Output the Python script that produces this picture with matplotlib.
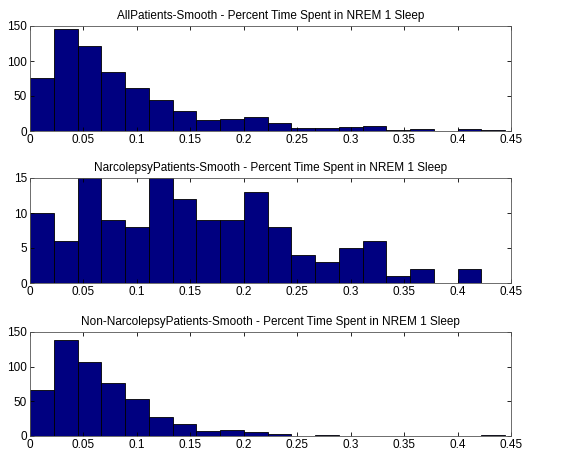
import numpy as np
import matplotlib
matplotlib.use('Agg')
import matplotlib.pyplot as plt

plt.rcParams['font.family'] = ['Liberation Sans', 'DejaVu Sans']

# histogram counts, 20 bins over 0 .. 0.4445
bin_lo = 0.0
bin_hi = 0.4445
n_bins = 20

all_counts = [76, 145, 122, 85, 62, 44, 29, 16, 17, 20, 12, 4, 4, 6, 7, 2, 3, 0, 3, 2]
narco_counts = [10, 6, 15, 9, 8, 15, 12, 9, 9, 13, 8, 4, 3, 5, 6, 1, 2, 0, 2, 0]
non_narco_counts = [66, 139, 107, 76, 53, 28, 17, 7, 8, 6, 3, 0, 1, 0, 0, 0, 0, 0, 0, 1]

titles = ['AllPatients-Smooth - Percent Time Spent in NREM 1 Sleep',
          'NarcolepsyPatients-Smooth - Percent Time Spent in NREM 1 Sleep',
          'Non-NarcolepsyPatients-Smooth - Percent Time Spent in NREM 1 Sleep']
y_ticks = [[0, 50, 100, 150], [0, 5, 10, 15], [0, 50, 100, 150]]
x_ticks = [0, 0.05, 0.1, 0.15, 0.2, 0.25, 0.3, 0.35, 0.4, 0.45]
x_labels = ['0', '0.05', '0.1', '0.15', '0.2', '0.25', '0.3', '0.35', '0.4', '0.45']

fig = plt.figure(figsize=(5.71, 4.55), dpi=100)
W, H = 571, 455
# axes boxes in pixels: left, top, right, bottom
boxes = [(30, 26, 511, 131), (30, 178, 511, 283), (30, 332, 511, 436)]

edges = np.linspace(bin_lo, bin_hi, n_bins + 1)
widths = np.diff(edges)

for box, counts, title, yt in zip(boxes, [all_counts, narco_counts, non_narco_counts], titles, y_ticks):
    l, t, r, b = box
    ax = fig.add_axes([l / W, 1 - b / H, (r - l) / W, (b - t) / H])
    ax.bar(edges[:-1], counts, width=widths, align='edge',
           color='#000080', edgecolor='black', linewidth=0.6)
    ax.set_xlim(0, 0.45)
    ax.set_ylim(yt[0], yt[-1])
    ax.set_xticks(x_ticks)
    ax.set_xticklabels(x_labels)
    ax.set_yticks(yt)
    ax.tick_params(direction='in', top=True, right=True, labelsize=8.5,
                   length=3, width=0.6, pad=2)
    for s in ax.spines.values():
        s.set_linewidth(0.6)
        s.set_color('#555555')
    ax.set_title(title, fontsize=8.5, pad=5)

fig.savefig('out.png', dpi=100)
